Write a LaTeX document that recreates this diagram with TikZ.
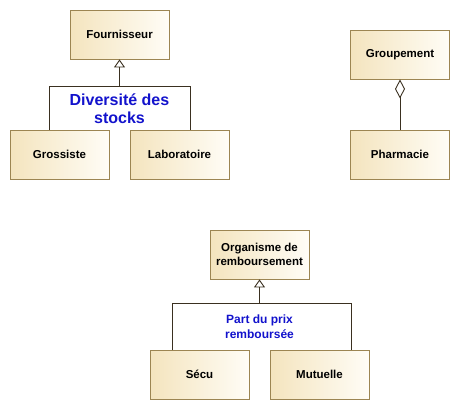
\documentclass[tikz,border=0pt]{standalone}
\usepackage{fontspec}
\setmainfont{Liberation Sans}
\usetikzlibrary{arrows.meta}
\definecolor{boxborder}{HTML}{9C8552}
\definecolor{boxleft}{HTML}{F4E4BE}
\definecolor{boxright}{HTML}{FFFDF6}
\definecolor{linecol}{HTML}{3A3020}
\definecolor{labelblue}{HTML}{1212CC}
\tikzset{
  cls/.style={draw=boxborder, line width=0.9pt, left color=boxleft, right color=boxright,
    minimum width=99pt, minimum height=49pt, inner sep=0pt, align=center,
    font=\fontsize{11.5}{14}\selectfont\bfseries},
  conn/.style={draw=linecol, line width=0.9pt},
  gen/.style={conn, -{Triangle[open, length=8pt, width=11pt]}},
  agg/.style={conn, -{Diamond[open, length=19pt, width=10pt]}},
  biglabel/.style={text=labelblue, align=center, font=\fontsize{16}{17.5}\selectfont\bfseries, inner sep=0pt},
  smalllabel/.style={text=labelblue, align=center, font=\fontsize{12}{15}\selectfont\bfseries, inner sep=0pt},
}
\begin{document}
\begin{tikzpicture}[x=1pt, y=-1pt]
\useasboundingbox (0,0) rectangle (460,410);
% group 1
\node[cls] (four) at (119.5,34.5) {Fournisseur};
\node[cls] (gros) at (59.5,154.5) {Grossiste};
\node[cls] (lab) at (179.5,154.5) {Laboratoire};
\coordinate (j1) at (119.5,86);
\coordinate (jl1) at (49,86);
\coordinate (jr1) at (190,86);
\draw[conn] (gros.north -| jl1) -- (jl1) -- (jr1) -- (lab.north -| jr1);
\draw[gen] (j1) -- (four.south);
\node[biglabel] (t1) at (119.5,108.5) {Diversité des\\stocks};
% group 2
\node[cls] (grp) at (400,54.5) {Groupement};
\node[cls] (pha) at (400,154.5) {Pharmacie};
\draw[agg] (pha.north) -- (grp.south);
% group 3
\node[cls] (org) at (259.5,254.5) {Organisme de\\remboursement};
\node[cls] (secu) at (199.5,374.5) {Sécu};
\node[cls] (mut) at (319.5,374.5) {Mutuelle};
\coordinate (j3) at (259.5,303);
\coordinate (jl3) at (172,303);
\coordinate (jr3) at (351,303);
\draw[conn] (secu.north -| jl3) -- (jl3) -- (jr3) -- (mut.north -| jr3);
\draw[gen] (j3) -- (org.south);
\node[smalllabel] (t3) at (259.5,326.5) {Part du prix\\remboursée};
\end{tikzpicture}
\end{document}
